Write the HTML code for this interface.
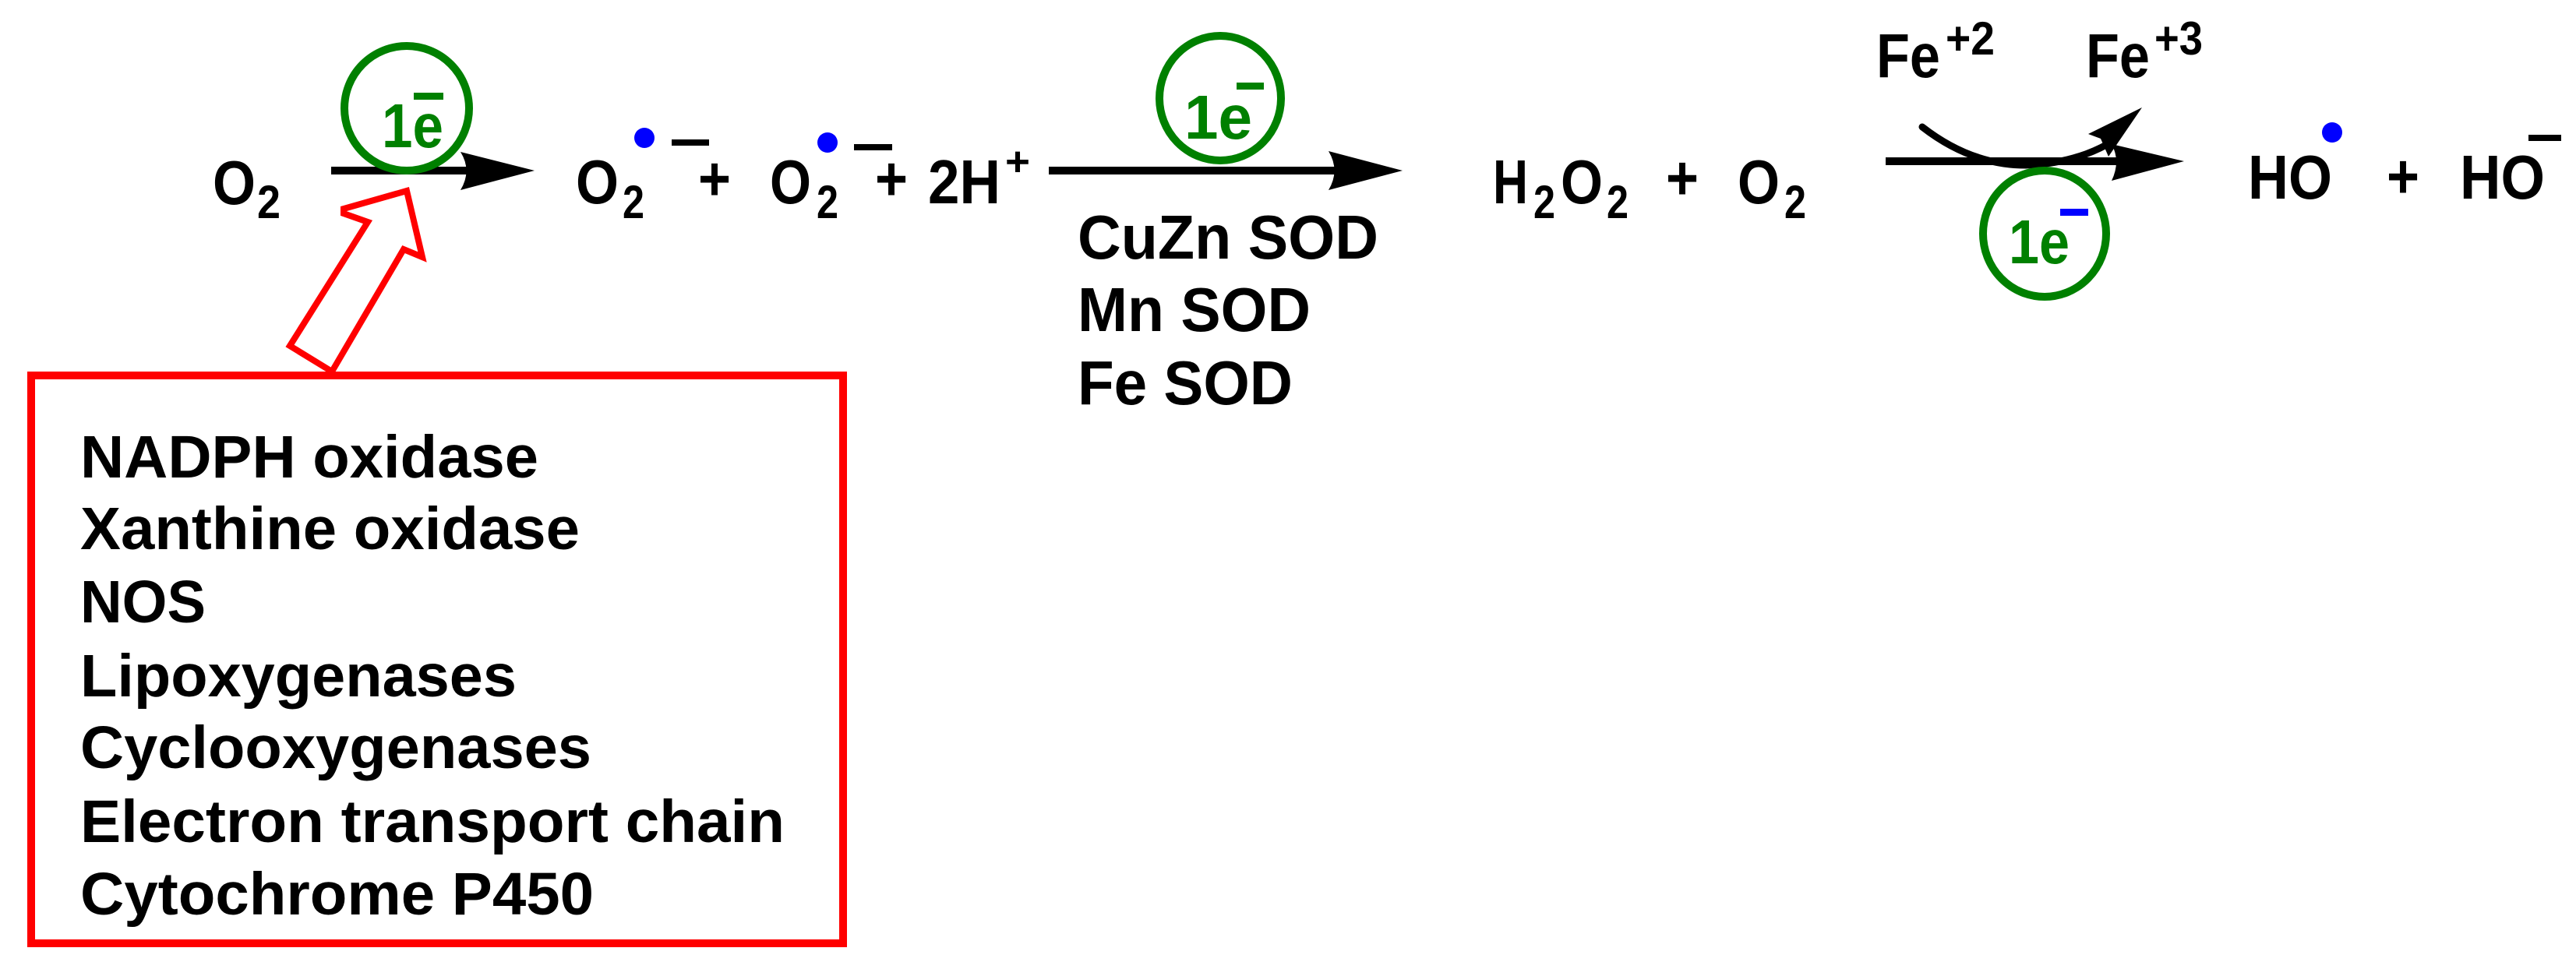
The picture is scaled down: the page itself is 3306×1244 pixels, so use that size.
<!DOCTYPE html>
<html><head><meta charset="utf-8"><style>html,body{margin:0;padding:0;background:#fff}svg{display:block}</style></head>
<body>
<svg width="3306" height="1244" viewBox="0 0 3306 1244" xmlns="http://www.w3.org/2000/svg" font-family="Liberation Sans, sans-serif" font-weight="bold">
<g fill="#000" font-size="80">
<text x="273" y="262" textLength="55" lengthAdjust="spacingAndGlyphs">O</text>
<text x="330" y="280" font-size="60" textLength="30" lengthAdjust="spacingAndGlyphs">2</text>
<text x="739" y="261" textLength="55" lengthAdjust="spacingAndGlyphs">O</text>
<text x="799" y="280" font-size="60" textLength="28" lengthAdjust="spacingAndGlyphs">2</text>
<text x="896" y="257" textLength="42" lengthAdjust="spacingAndGlyphs">+</text>
<text x="988" y="261" textLength="53" lengthAdjust="spacingAndGlyphs">O</text>
<text x="1048" y="280" font-size="60" textLength="28" lengthAdjust="spacingAndGlyphs">2</text>
<text x="1123" y="257" textLength="42" lengthAdjust="spacingAndGlyphs">+</text>
<text x="1191" y="261" textLength="93" lengthAdjust="spacingAndGlyphs">2H</text>
<text x="1290" y="225" font-size="52" textLength="32" lengthAdjust="spacingAndGlyphs">+</text>
<text x="1383" y="332" textLength="386" lengthAdjust="spacingAndGlyphs">CuZn SOD</text>
<text x="1383" y="425" textLength="299" lengthAdjust="spacingAndGlyphs">Mn SOD</text>
<text x="1383" y="519" textLength="276" lengthAdjust="spacingAndGlyphs">Fe SOD</text>
<text x="1916" y="261" textLength="45" lengthAdjust="spacingAndGlyphs">H</text>
<text x="1968" y="280" font-size="60" textLength="28" lengthAdjust="spacingAndGlyphs">2</text>
<text x="2003" y="261" textLength="54" lengthAdjust="spacingAndGlyphs">O</text>
<text x="2062" y="280" font-size="60" textLength="28" lengthAdjust="spacingAndGlyphs">2</text>
<text x="2138" y="256" textLength="42" lengthAdjust="spacingAndGlyphs">+</text>
<text x="2230" y="261" textLength="54" lengthAdjust="spacingAndGlyphs">O</text>
<text x="2290" y="280" font-size="60" textLength="28" lengthAdjust="spacingAndGlyphs">2</text>
<text x="2408" y="99" textLength="82" lengthAdjust="spacingAndGlyphs">Fe</text>
<text x="2497" y="70" font-size="60" textLength="63" lengthAdjust="spacingAndGlyphs">+2</text>
<text x="2677" y="99" textLength="82" lengthAdjust="spacingAndGlyphs">Fe</text>
<text x="2765" y="70" font-size="60" textLength="62" lengthAdjust="spacingAndGlyphs">+3</text>
<text x="2885" y="255" textLength="108" lengthAdjust="spacingAndGlyphs">HO</text>
<text x="3063" y="254" textLength="42" lengthAdjust="spacingAndGlyphs">+</text>
<text x="3157" y="255" textLength="109" lengthAdjust="spacingAndGlyphs">HO</text>
</g>
<g fill="#0000ff">
<ellipse cx="827" cy="177" rx="13" ry="13"/>
<ellipse cx="1062" cy="183" rx="13" ry="13"/>
<ellipse cx="2993" cy="170" rx="13" ry="13"/>
</g>
<g fill="#000">
<rect x="862" y="179" width="48" height="8"/>
<rect x="1096" y="185" width="49" height="8"/>
<rect x="3245" y="173" width="42" height="8"/>
</g>
<g fill="#000">
<rect x="425" y="214" width="180" height="10"/>
<path d="M591,195 L686,219 L591,244 Q606,219 591,195 Z"/>
<rect x="1346" y="214" width="370" height="10"/>
<path d="M1705,194 L1800,219 L1705,244 Q1720,219 1705,194 Z"/>
<rect x="2420" y="202" width="300" height="10"/>
<path d="M2710,185 L2803,207 L2710,232 Q2722,207 2710,185 Z"/>
</g>
<path d="M2467,163 Q2530,212 2600,212 Q2660,210 2705,185" fill="none" stroke="#000" stroke-width="9" stroke-linecap="round"/>
<polygon points="2749,138 2680,172 2696,178 2706,201" fill="#000"/>
<g fill="none" stroke="#008000" stroke-width="10">
<circle cx="522" cy="139" r="80"/>
<ellipse cx="1566" cy="126" rx="78" ry="80"/>
<ellipse cx="2624" cy="300" rx="79" ry="81"/>
</g>
<g fill="#008000" font-size="80">
<text x="490" y="189" textLength="79" lengthAdjust="spacingAndGlyphs">1e</text>
<rect x="531" y="119" width="38" height="9"/>
<text x="1520" y="178" textLength="87" lengthAdjust="spacingAndGlyphs">1e</text>
<rect x="1587" y="106" width="35" height="9"/>
<text x="2578" y="338" textLength="78" lengthAdjust="spacingAndGlyphs">1e</text>
</g>
<rect x="2644" y="268" width="36" height="9" fill="#0000ff"/>
<polygon points="522,245 441,268 441,274 472,285 372,444 426,477 518,320 542,330" fill="#fff" stroke="#ff0000" stroke-width="8" stroke-linejoin="miter"/>
<rect x="40" y="482" width="1042" height="729" fill="none" stroke="#ff0000" stroke-width="10"/>
<g fill="#000" font-size="77">
<text x="103" y="613" textLength="588" lengthAdjust="spacingAndGlyphs">NADPH oxidase</text>
<text x="103" y="705" textLength="641" lengthAdjust="spacingAndGlyphs">Xanthine oxidase</text>
<text x="103" y="799" textLength="161" lengthAdjust="spacingAndGlyphs">NOS</text>
<text x="103" y="894" textLength="560" lengthAdjust="spacingAndGlyphs">Lipoxygenases</text>
<text x="103" y="986" textLength="656" lengthAdjust="spacingAndGlyphs">Cyclooxygenases</text>
<text x="103" y="1081" textLength="904" lengthAdjust="spacingAndGlyphs">Electron transport chain</text>
<text x="103" y="1174" textLength="659" lengthAdjust="spacingAndGlyphs">Cytochrome P450</text>
</g>
</svg>
</body></html>
